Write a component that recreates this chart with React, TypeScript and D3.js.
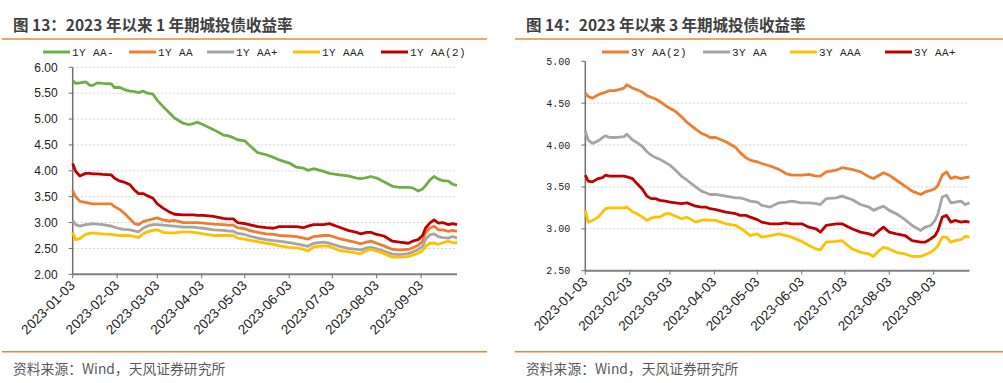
import React from "react";
import * as d3 from "d3";

// ---------- DATA ----------
const dates = [
  "2023-01-03","2023-01-05","2023-01-08","2023-01-12","2023-01-15","2023-01-17","2023-01-20","2023-01-24","2023-01-30",
  "2023-02-01","2023-02-05","2023-02-08","2023-02-12","2023-02-15","2023-02-18","2023-02-21","2023-02-24","2023-02-28",
  "2023-03-03","2023-03-07","2023-03-11","2023-03-15","2023-03-21","2023-03-25","2023-03-28","2023-03-31",
  "2023-04-04","2023-04-11","2023-04-18","2023-04-21","2023-04-25","2023-04-28",
  "2023-05-03","2023-05-06","2023-05-12","2023-05-18","2023-05-23","2023-05-27",
  "2023-06-03","2023-06-08","2023-06-13","2023-06-16","2023-06-20","2023-06-27",
  "2023-07-01","2023-07-08","2023-07-14","2023-07-20","2023-07-23","2023-07-27","2023-07-30",
  "2023-08-03","2023-08-08","2023-08-14","2023-08-19","2023-08-25","2023-08-28",
  "2023-09-01","2023-09-04","2023-09-06","2023-09-09","2023-09-12","2023-09-15","2023-09-18","2023-09-22","2023-09-25","2023-09-28"
];

// Chart 13: 1Y
const y1_AAminus = [
  5.74,5.69,5.70,5.72,5.65,5.65,5.70,5.69,5.68,
  5.61,5.61,5.57,5.54,5.53,5.51,5.54,5.50,5.48,
  5.36,5.24,5.13,5.02,4.92,4.89,4.91,4.94,
  4.89,4.80,4.69,4.68,4.64,4.60,
  4.58,4.50,4.35,4.31,4.26,4.21,
  4.15,4.07,4.05,4.01,4.04,3.99,
  3.95,3.92,3.90,3.86,3.85,3.87,3.89,
  3.86,3.79,3.70,3.68,3.68,3.67,
  3.61,3.65,3.71,3.82,3.89,3.84,3.81,3.80,3.74,3.72
];
const y1_AA = [
  3.62,3.50,3.41,3.39,3.37,3.36,3.36,3.36,3.36,
  3.31,3.25,3.18,3.07,2.98,2.96,3.02,3.04,3.07,
  3.09,3.05,3.03,3.04,3.00,3.00,3.00,3.00,
  2.99,2.97,2.96,2.95,2.95,2.90,
  2.88,2.85,2.81,2.78,2.77,2.75,
  2.74,2.73,2.70,2.68,2.73,2.75,
  2.75,2.69,2.65,2.61,2.59,2.62,2.64,
  2.60,2.55,2.48,2.47,2.48,2.51,
  2.56,2.64,2.80,2.89,2.93,2.86,2.86,2.83,2.85,2.83
];
const y1_AAplus = [
  3.04,2.96,2.93,2.96,2.97,2.98,2.97,2.96,2.93,
  2.91,2.88,2.87,2.86,2.84,2.82,2.89,2.93,2.96,
  2.96,2.95,2.94,2.93,2.91,2.91,2.91,2.90,
  2.89,2.86,2.85,2.84,2.83,2.79,
  2.77,2.74,2.70,2.67,2.65,2.64,
  2.61,2.59,2.56,2.54,2.60,2.62,
  2.60,2.54,2.50,2.48,2.47,2.51,2.52,
  2.49,2.45,2.39,2.38,2.40,2.43,
  2.48,2.54,2.67,2.76,2.78,2.73,2.71,2.70,2.73,2.70
];
const y1_AAA = [
  2.81,2.67,2.69,2.77,2.79,2.80,2.79,2.78,2.77,
  2.76,2.75,2.75,2.75,2.73,2.71,2.78,2.82,2.85,
  2.86,2.81,2.80,2.80,2.82,2.82,2.81,2.80,
  2.78,2.75,2.75,2.75,2.75,2.70,
  2.68,2.66,2.63,2.60,2.58,2.55,
  2.52,2.51,2.48,2.45,2.53,2.55,
  2.54,2.46,2.44,2.41,2.40,2.46,2.48,
  2.45,2.40,2.33,2.33,2.34,2.37,
  2.41,2.46,2.54,2.60,2.60,2.58,2.61,2.64,2.61,2.61
];
const y1_AA2 = [
  4.14,3.99,3.90,3.95,3.95,3.94,3.94,3.93,3.92,
  3.86,3.80,3.78,3.73,3.63,3.56,3.56,3.52,3.47,
  3.36,3.28,3.21,3.16,3.15,3.15,3.15,3.14,
  3.14,3.12,3.08,3.07,3.07,3.00,
  2.98,2.96,2.92,2.90,2.89,2.92,
  2.92,2.92,2.90,2.93,2.96,2.96,
  2.98,2.91,2.85,2.81,2.78,2.81,2.81,
  2.77,2.74,2.64,2.62,2.60,2.64,
  2.67,2.75,2.89,2.99,3.05,2.99,3.00,2.96,2.98,2.96
];

// Chart 14: 3Y
const y3_AA2 = [
  4.62,4.58,4.56,4.60,4.62,4.63,4.65,4.65,4.68,
  4.72,4.68,4.66,4.63,4.59,4.57,4.55,4.52,4.47,
  4.44,4.40,4.34,4.27,4.19,4.14,4.12,4.09,
  4.09,4.04,3.97,3.91,3.85,3.82,
  3.80,3.78,3.75,3.71,3.66,3.64,
  3.64,3.65,3.63,3.63,3.68,3.70,
  3.73,3.71,3.68,3.62,3.60,3.64,3.67,
  3.64,3.58,3.51,3.45,3.41,3.44,
  3.46,3.48,3.52,3.64,3.68,3.60,3.62,3.60,3.61,3.62
];
const y3_AA = [
  4.17,4.06,4.02,4.05,4.09,4.11,4.09,4.09,4.10,
  4.13,4.06,4.03,3.98,3.92,3.88,3.85,3.83,3.79,
  3.76,3.70,3.63,3.58,3.50,3.45,3.43,3.41,
  3.41,3.39,3.37,3.37,3.35,3.33,
  3.32,3.28,3.26,3.31,3.32,3.33,
  3.31,3.31,3.30,3.29,3.36,3.37,
  3.39,3.35,3.29,3.26,3.22,3.25,3.27,
  3.22,3.18,3.11,3.04,2.98,3.02,
  3.04,3.10,3.18,3.38,3.40,3.31,3.32,3.33,3.29,3.31
];
const y3_AAA = [
  3.22,3.08,3.10,3.14,3.20,3.24,3.25,3.25,3.25,
  3.26,3.20,3.18,3.14,3.10,3.13,3.14,3.14,3.18,
  3.18,3.15,3.12,3.14,3.08,3.10,3.11,3.10,
  3.10,3.06,3.04,3.01,2.96,2.92,
  2.94,2.90,2.92,2.94,2.92,2.90,
  2.85,2.80,2.76,2.75,2.84,2.85,
  2.86,2.76,2.72,2.70,2.67,2.74,2.78,
  2.76,2.72,2.70,2.67,2.67,2.69,
  2.72,2.76,2.80,2.90,2.90,2.84,2.86,2.87,2.91,2.90
];
const y3_AAplus = [
  3.64,3.57,3.56,3.60,3.61,3.64,3.63,3.63,3.63,
  3.62,3.60,3.54,3.47,3.39,3.36,3.36,3.34,3.33,
  3.32,3.31,3.30,3.31,3.27,3.26,3.26,3.24,
  3.23,3.20,3.18,3.16,3.16,3.14,
  3.11,3.08,3.06,3.06,3.07,3.06,
  3.06,3.02,3.00,2.96,3.04,3.06,
  3.06,3.00,2.96,2.94,2.92,2.98,3.02,
  2.96,2.94,2.92,2.86,2.84,2.84,
  2.88,2.92,2.98,3.14,3.16,3.08,3.10,3.08,3.09,3.08
];

const xTickLabels = [
  "2023-01-03","2023-02-03","2023-03-03","2023-04-03","2023-05-03",
  "2023-06-03","2023-07-03","2023-08-03","2023-09-03"
];
const yTicks13 = [2.0, 2.5, 3.0, 3.5, 4.0, 4.5, 5.0, 5.5, 6.0];
const yTicks14 = [2.5, 3.0, 3.5, 4.0, 4.5, 5.0];

const title13 = "图 13：2023 年以来 1 年期城投债收益率";
const title14 = "图 14：2023 年以来 3 年期城投债收益率";
const sourceText = "资料来源：Wind，天风证券研究所";

const names13 = ["1Y AA-", "1Y AA", "1Y AA+", "1Y AAA", "1Y AA(2)"];
const names14 = ["3Y AA(2)", "3Y AA", "3Y AAA", "3Y AA+"];

// ---------- STYLE ----------
const C_GREEN = "#70AD47";
const C_ORANGE = "#ED7D31";
const C_GRAY = "#A5A5A5";
const C_YELLOW = "#FFC000";
const C_RED = "#C00000";
const RULE = "#E8863A";
const CJK = '"Noto Sans CJK SC", "Noto Sans", sans-serif';

const parse = d3.timeParse("%Y-%m-%d");

type Series = { name: string; color: string; values: number[] };

type PanelProps = {
  title: string;
  titleX: number;
  ruleX0: number;
  ruleX1: number;
  plotX0: number;
  plotX1: number;
  plotY0: number;
  plotY1: number;
  yDomain: [number, number];
  yTicks: number[];
  gridTop: boolean;
  yLabelFont: string;
  yLabelSize: number;
  series: Series[];
  legendX: number[];
};

function Panel(p: PanelProps) {
  const parsed = dates.map((d) => parse(d) as Date);
  const x = d3
    .scaleTime()
    .domain([parse("2023-01-03") as Date, parse("2023-09-28") as Date])
    .range([p.plotX0, p.plotX1]);
  const y = d3.scaleLinear().domain(p.yDomain).range([p.plotY1, p.plotY0]);
  const line = d3
    .line<number>()
    .x((_, i) => x(parsed[i]))
    .y((v) => y(v));
  const fmt = d3.format(".2f");
  const gridTicks = p.yTicks.filter((t) => t !== p.yDomain[0] && (p.gridTop || t !== p.yDomain[1]));
  return (
    <g>
      <text x={p.titleX} y={31} fontFamily={CJK} fontWeight={700} fontSize={15.5} fill="#404040">
        {p.title}
      </text>
      <line x1={p.ruleX0} x2={p.ruleX1} y1={39} y2={39} stroke={RULE} strokeWidth={1.5} />
      {/* legend */}
      {p.series.map((s, i) => (
        <g key={s.name}>
          <line
            x1={p.legendX[i]}
            x2={p.legendX[i] + 27}
            y1={52}
            y2={52}
            stroke={s.color}
            strokeWidth={3}
          />
          <text
            x={p.legendX[i] + 29}
            y={56}
            fontFamily='"Liberation Mono", monospace'
            fontSize={11}
            letterSpacing={0.4}
            fill="#222"
            style={{ whiteSpace: "pre" }}
          >
            {s.name}
          </text>
        </g>
      ))}
      {/* grid */}
      {gridTicks.map((t) => (
        <line
          key={"g" + t}
          x1={p.plotX0}
          x2={p.plotX1}
          y1={y(t)}
          y2={y(t)}
          stroke="#D0D0D0"
          strokeWidth={1}
          strokeDasharray="2,2"
        />
      ))}
      {/* y axis */}
      <line x1={p.plotX0} x2={p.plotX0} y1={y(p.yDomain[1])} y2={p.plotY1} stroke="#707070" strokeWidth={1.5} />
      {p.yTicks.map((t) => (
        <g key={"y" + t}>
          <line x1={p.plotX0 - 4} x2={p.plotX0} y1={y(t)} y2={y(t)} stroke="#707070" strokeWidth={1} />
          <text
            x={p.plotX0 - 15}
            y={y(t)}
            dy="0.35em"
            textAnchor="end"
            fontFamily={p.yLabelFont}
            fontSize={p.yLabelSize}
            fill="#222"
          >
            {fmt(t)}
          </text>
        </g>
      ))}
      {/* series */}
      {p.series.map((s) => (
        <path
          key={s.name}
          d={line(s.values) || ""}
          fill="none"
          stroke={s.color}
          strokeWidth={2.8}
          strokeLinejoin="round"
        />
      ))}
      {/* x axis */}
      <line x1={p.plotX0} x2={p.plotX1} y1={p.plotY1} y2={p.plotY1} stroke="#808080" strokeWidth={2} />
      {xTickLabels.map((lbl) => {
        const tx = x(parse(lbl) as Date);
        return (
          <g key={lbl}>
            <line x1={tx} x2={tx} y1={p.plotY1} y2={p.plotY1 + 4} stroke="#707070" strokeWidth={1} />
            <text
              transform={`translate(${tx + 3},${p.plotY1 + 12}) rotate(-45)`}
              textAnchor="end"
              fontFamily='"Liberation Sans", Arial, sans-serif'
              fontSize={13.5}
              fill="#222"
            >
              {lbl}
            </text>
          </g>
        );
      })}
      {/* footer */}
      <line x1={p.ruleX0} x2={p.ruleX1} y1={351.7} y2={351.7} stroke={RULE} strokeWidth={1.5} />
      <text x={p.titleX} y={374} fontFamily={CJK} fontSize={13.8} fill="#595959">
        {sourceText}
      </text>
    </g>
  );
}

export default function App() {
  const s13: Series[] = [
    { name: names13[0], color: C_GREEN, values: y1_AAminus },
    { name: names13[1], color: C_ORANGE, values: y1_AA },
    { name: names13[2], color: C_GRAY, values: y1_AAplus },
    { name: names13[3], color: C_YELLOW, values: y1_AAA },
    { name: names13[4], color: C_RED, values: y1_AA2 },
  ];
  const s14: Series[] = [
    { name: names14[0], color: C_ORANGE, values: y3_AA2 },
    { name: names14[1], color: C_GRAY, values: y3_AA },
    { name: names14[2], color: C_YELLOW, values: y3_AAA },
    { name: names14[3], color: C_RED, values: y3_AAplus },
  ];
  return (
    <svg
      width={1003}
      height={383}
      style={{ position: "absolute", left: 0, top: 0, background: "#fff" }}
    >
      <rect width={1003} height={383} fill="#fff" />
      <Panel
        title={title13}
        titleX={13}
        ruleX0={2}
        ruleX1={487}
        plotX0={72.7}
        plotX1={457}
        plotY0={67.3}
        plotY1={274.3}
        yDomain={[2, 6]}
        yTicks={yTicks13}
        gridTop={true}
        yLabelFont='"Liberation Sans", Arial, sans-serif'
        yLabelSize={12}
        series={s13}
        legendX={[43, 129, 207, 293, 381]}
      />
      <Panel
        title={title14}
        titleX={526}
        ruleX0={515}
        ruleX1={1003}
        plotX0={585.3}
        plotX1={969.5}
        plotY0={61.3}
        plotY1={270.7}
        yDomain={[2.5, 5]}
        yTicks={yTicks14}
        gridTop={false}
        yLabelFont='"Liberation Mono", monospace'
        yLabelSize={10}
        series={s14}
        legendX={[602, 703, 790, 885]}
      />
    </svg>
  );
}
